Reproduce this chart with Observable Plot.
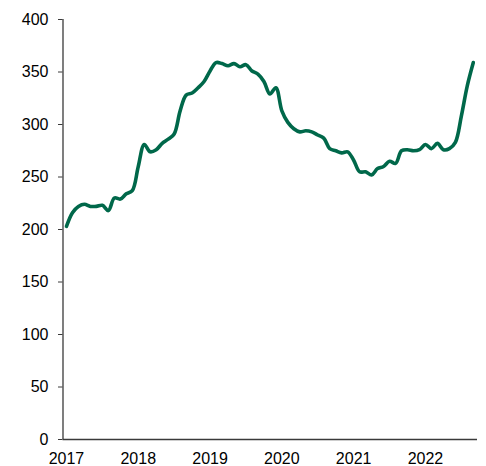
<!DOCTYPE html>
<html>
<head>
<meta charset="utf-8">
<script src="https://cdn.jsdelivr.net/npm/d3@7"></script>
<script src="https://cdn.jsdelivr.net/npm/@observablehq/plot@0.6"></script>
<style>
  html, body { margin: 0; padding: 0; background: #fff; }
  #chart svg { display: block; }
</style>
</head>
<body>
<div id="chart"></div>
<script>
// Monthly values, Jan 2017 .. Sep 2022 (month index 0..68)
const values = [
  203, 216, 222, 224, 222, 222, 223, 218, 230, 229, 234, 237,
  260, 281, 274, 276, 282, 286, 291, 313, 328, 330, 335, 341,
  351, 359, 358, 356, 358, 355, 357, 351, 348, 341, 329, 335,
  313, 302, 296, 293, 294, 293, 290, 287, 277, 275, 273, 274,
  266, 255, 255, 252, 258, 260, 265, 263, 275, 276, 275, 276,
  281, 277, 282, 276, 277, 283, 308, 337, 359
];
const yearLabels = ["2017", "2018", "2019", "2020", "2021", "2022"];
const yearTickMonths = [0, 12, 24, 36, 48, 60];
const yTicks = [0, 50, 100, 150, 200, 250, 300, 350, 400];

const data = values.map((v, i) => ({m: i, v}));
const xDomain = [-0.58, 68.7];
const axisColor = "#3a3a3a";

const chart = Plot.plot({
  width: 486,
  height: 466,
  marginTop: 19,
  marginBottom: 27,
  marginLeft: 62.5,
  marginRight: 9,
  style: {fontFamily: "'Liberation Sans', Arial, sans-serif", fontSize: "16px", color: "#000", background: "#fff", overflow: "visible"},
  x: {domain: xDomain, label: null},
  y: {domain: [0, 400], label: null},
  marks: [
    Plot.axisY({ticks: yTicks, tickSize: 4.5, tickPadding: 10, stroke: axisColor, label: null, fontSize: 16}),
    Plot.axisX({ticks: yearTickMonths, tickFormat: d => yearLabels[yearTickMonths.indexOf(d)], tickSize: 0, tickPadding: 13, label: null, fontSize: 16}),
    Plot.ruleX([xDomain[0]], {stroke: axisColor, strokeWidth: 1.3}),
    Plot.ruleY([0], {stroke: axisColor, strokeWidth: 1.3}),
    Plot.line(data, {x: "m", y: "v", stroke: "#00684A", strokeWidth: 3.6, curve: "catmull-rom"})
  ]
});
document.getElementById("chart").appendChild(chart);
</script>
</body>
</html>
